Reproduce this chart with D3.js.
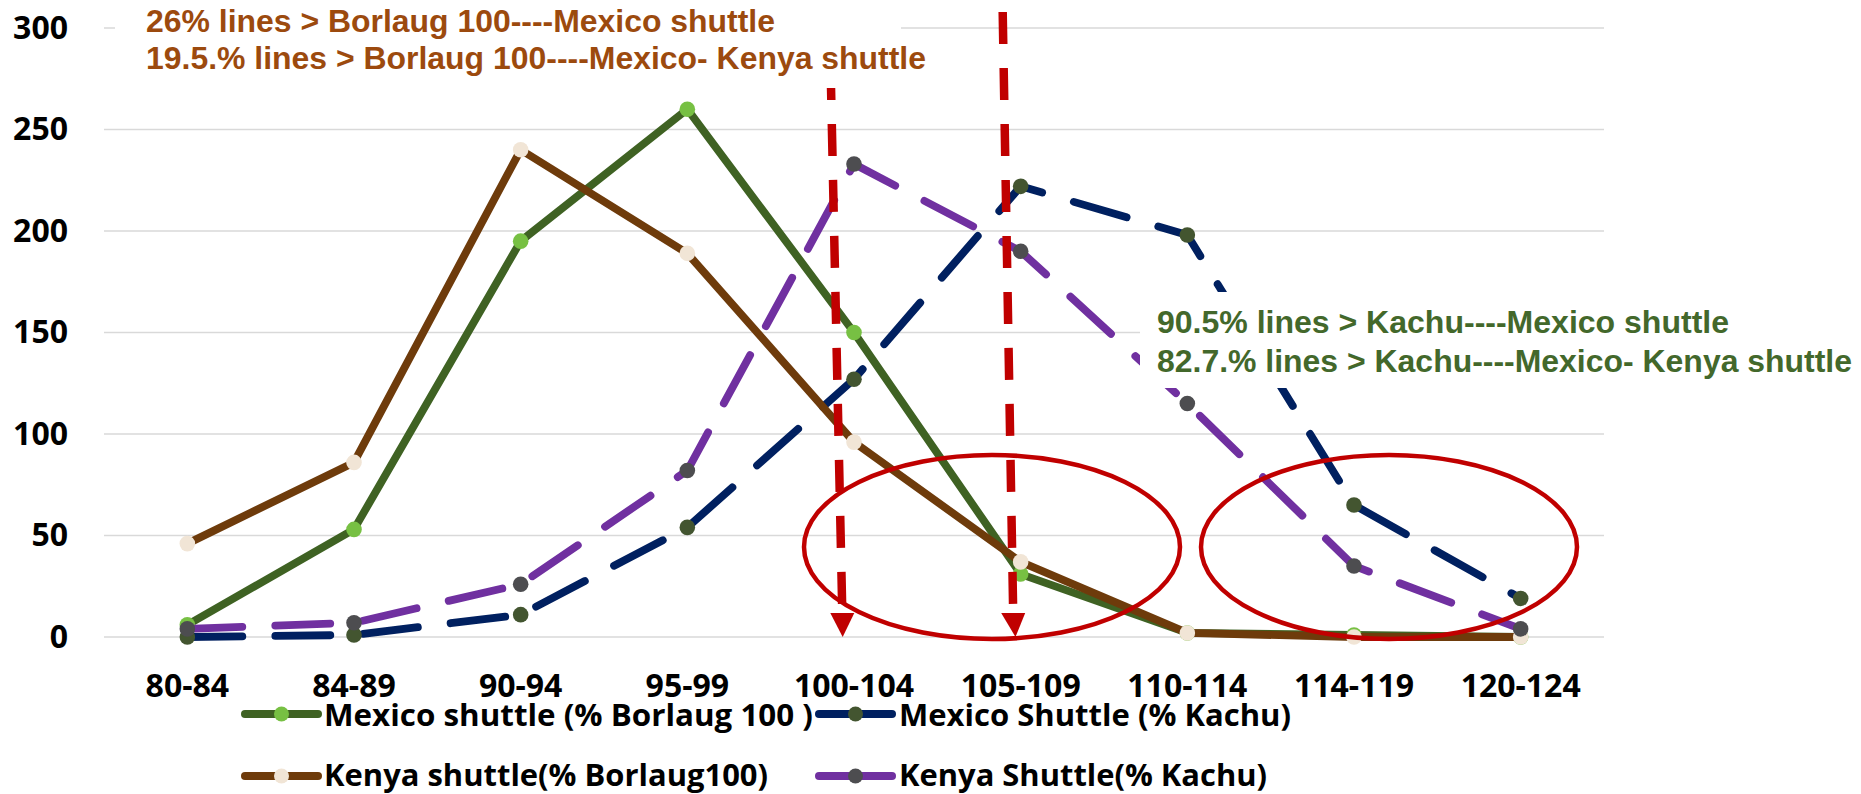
<!DOCTYPE html>
<html><head><meta charset="utf-8">
<script src="https://cdn.jsdelivr.net/npm/d3@7"></script>
<style>body{margin:0;background:#fff}</style>
</head><body>
<svg id="c" width="1861" height="794"></svg>
<script>
const categories = ["80-84","84-89","90-94","95-99","100-104","105-109","110-114","114-119","120-124"];
const mexicoBorlaug = [6,53,195,260,150,31,2,1,0];
const mexicoKachu   = [0,1,11,54,127,222,198,65,19];
const kenyaBorlaug  = [46,86,240,189,96,37,2,0,0];
const kenyaKachu    = [4,7,26,82,233,190,115,35,4];
const yTicks = [0,50,100,150,200,250,300];
const seriesNames = ["Mexico shuttle (% Borlaug 100 )","Mexico Shuttle (% Kachu)","Kenya shuttle(% Borlaug100)","Kenya Shuttle(% Kachu)"];
const noteBorlaug = ["26% lines > Borlaug 100----Mexico shuttle","19.5.% lines > Borlaug 100----Mexico- Kenya shuttle"];
const noteKachu = ["90.5% lines > Kachu----Mexico shuttle","82.7.% lines > Kachu----Mexico- Kenya shuttle"];

const svg = d3.select("#c");
const x = d3.scaleBand().domain(categories).range([104,1604]).padding(0);
const y = d3.scaleLinear().domain([0,300]).range([637,28]);
const cx = c => x(c) + x.bandwidth()/2;

// gridlines
svg.append("g").selectAll("line").data(yTicks).join("line")
  .attr("x1",104).attr("x2",1604)
  .attr("y1",d=>y(d)).attr("y2",d=>y(d))
  .attr("stroke","#d9d9d9").attr("stroke-width",1.6);

// axes
const yAx = svg.append("g").attr("transform","translate(104,0)")
  .call(d3.axisLeft(y).tickValues(yTicks).tickSize(0).tickPadding(36));
yAx.select(".domain").remove();
yAx.selectAll("text").attr("font-family","'Open Sans', sans-serif").attr("font-weight",700)
  .attr("font-size",32).attr("fill","#000");

const xAx = svg.append("g").attr("transform","translate(0,637)")
  .call(d3.axisBottom(x).tickSize(0).tickPadding(37));
xAx.select(".domain").remove();
xAx.selectAll("text").attr("font-family","'Open Sans', sans-serif").attr("font-weight",700)
  .attr("font-size",32).attr("fill","#000");

// series
const series = [
  {name:seriesNames[0], values:mexicoBorlaug, color:"#3f6223", marker:"#77c043", dash:null},
  {name:seriesNames[1], values:mexicoKachu,   color:"#002060", marker:"#435530", dash:"55,33"},
  {name:seriesNames[2], values:kenyaBorlaug,  color:"#6e3b0b", marker:"#f1e5d6", dash:null},
  {name:seriesNames[3], values:kenyaKachu,    color:"#7030a0", marker:"#4d4d50", dash:"55,33"}
];
const line = d3.line().x((d,i)=>cx(categories[i])).y(d=>y(d));
series.forEach(s=>{
  const g = svg.append("g");
  g.append("path").attr("d",line(s.values)).attr("fill","none")
    .attr("stroke",s.color).attr("stroke-width",7.8)
    .attr("stroke-linecap","round").attr("stroke-linejoin","round")
    .attr("stroke-dasharray",s.dash);
  g.selectAll("circle").data(s.values).join("circle")
    .attr("cx",(d,i)=>cx(categories[i])).attr("cy",d=>y(d))
    .attr("r",7.8).attr("fill",s.marker);
});

// red dashed arrows
const arrows = [
  {x0:829.4,y0:12,x1:842.3,y1:613,tx:842.7,ty:637},
  {x0:1002.7,y0:12,x1:1013.2,y1:613,tx:1015.5,ty:637}
];
const ag = svg.append("g");
arrows.forEach(a=>{
  ag.append("line").attr("x1",a.x0).attr("y1",a.y0).attr("x2",a.x1).attr("y2",a.y1)
    .attr("stroke","#c00000").attr("stroke-width",8.5).attr("stroke-dasharray","32,24");
  ag.append("path").attr("d",`M${a.x1-12},613 L${a.x1+12},613 L${a.tx},${a.ty} Z`)
    .attr("fill","#c00000");
});

// ellipses
const ellipses = [{cx:992,cy:547,rx:188,ry:92},{cx:1389,cy:547,rx:188,ry:92}];
svg.append("g").selectAll("ellipse").data(ellipses).join("ellipse")
  .attr("cx",d=>d.cx).attr("cy",d=>d.cy).attr("rx",d=>d.rx).attr("ry",d=>d.ry)
  .attr("fill","none").attr("stroke","#c00000").attr("stroke-width",4.5);

// annotation text boxes
svg.append("rect").attr("x",115).attr("y",2).attr("width",786).attr("height",86).attr("fill","#fff");
svg.append("rect").attr("x",1140).attr("y",292).attr("width",721).attr("height",96).attr("fill","#fff");

const bLens=[629,780], gLens=[572,695];
noteBorlaug.forEach((t,i)=>{
  svg.append("text").attr("x",146).attr("y",[32,69][i]).text(t)
    .attr("font-family","'Liberation Sans', Arial, sans-serif").attr("font-weight",700)
    .attr("font-size",31).attr("fill","#9c4a0e")
    .attr("textLength",bLens[i]).attr("lengthAdjust","spacingAndGlyphs");
});
noteKachu.forEach((t,i)=>{
  svg.append("text").attr("x",1157).attr("y",[333,372][i]).text(t)
    .attr("font-family","'Liberation Sans', Arial, sans-serif").attr("font-weight",700)
    .attr("font-size",31).attr("fill","#43682b")
    .attr("textLength",gLens[i]).attr("lengthAdjust","spacingAndGlyphs");
});

// legend
const legPos = [
  {sx:245, tx:324, sy:714, ty:726, w:489},
  {sx:819, tx:899, sy:714, ty:726, w:392},
  {sx:245, tx:324, sy:776, ty:786, w:444},
  {sx:819, tx:899, sy:776, ty:786, w:368}
];
const lg = svg.append("g");
series.forEach((s,i)=>{
  const p = legPos[i];
  lg.append("line").attr("x1",p.sx).attr("x2",p.sx+73).attr("y1",p.sy).attr("y2",p.sy)
    .attr("stroke",s.color).attr("stroke-width",8).attr("stroke-linecap","round");
  lg.append("circle").attr("cx",p.sx+36.5).attr("cy",p.sy).attr("r",7.5).attr("fill",s.marker);
  lg.append("text").attr("x",p.tx).attr("y",p.ty).text(s.name)
    .attr("font-family","'Open Sans', sans-serif").attr("font-weight",700)
    .attr("font-size",29.5).attr("fill","#000")
    .attr("textLength",p.w).attr("lengthAdjust","spacingAndGlyphs");
});
</script>
</body></html>
